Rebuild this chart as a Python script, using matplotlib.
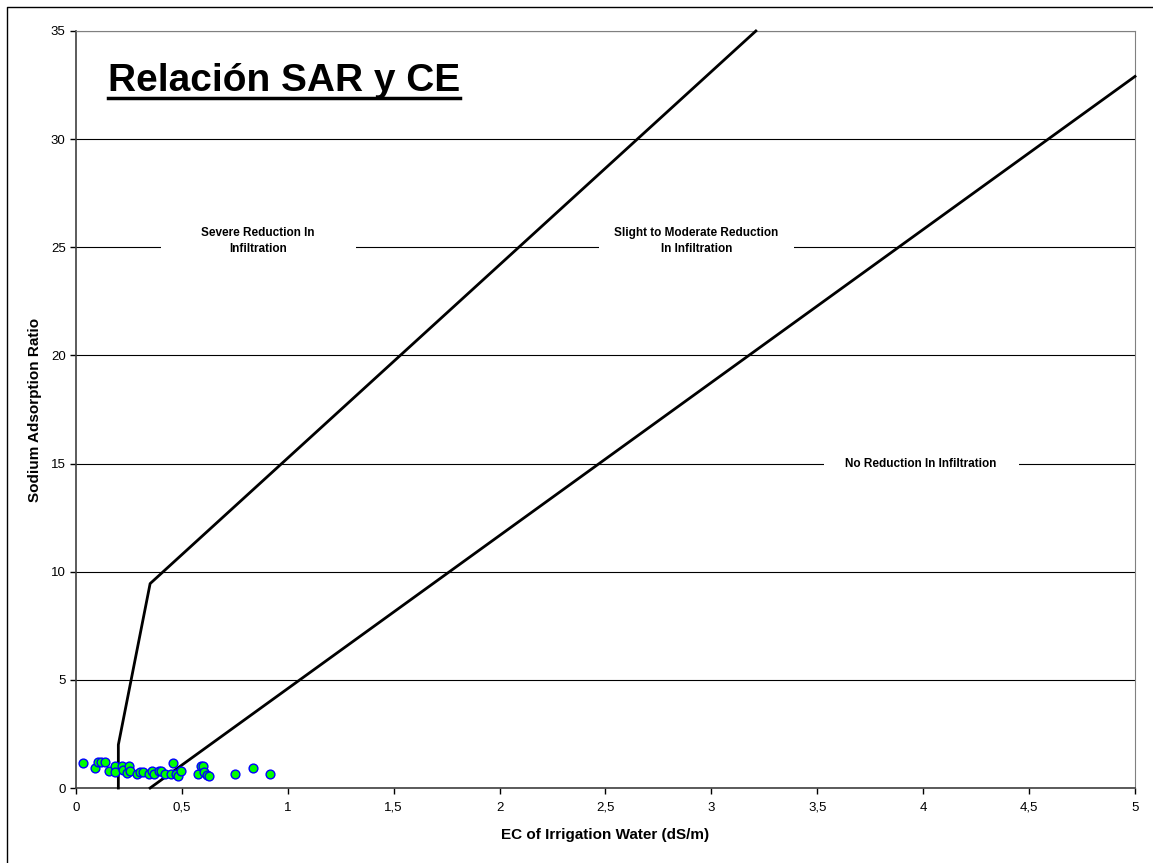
import matplotlib
matplotlib.use('Agg')
import matplotlib.pyplot as plt
from matplotlib.patches import Rectangle
from matplotlib.lines import Line2D
from matplotlib.ticker import FuncFormatter

plt.rcParams['font.family'] = ['Liberation Sans', 'DejaVu Sans']

# boundary lines between infiltration classes
severe_x = [0.2, 0.2, 0.35, 3.21]
severe_y = [0, 2.0, 9.45, 35]
none_x = [0.35, 5.0]
none_y = [0, 32.9]

# water samples (EC, SAR)
ec = [0.035, 0.088, 0.105, 0.117, 0.135, 0.157, 0.184, 0.184, 0.216, 0.22,
      0.24, 0.249, 0.255, 0.29, 0.30, 0.318, 0.346, 0.357, 0.37, 0.393,
      0.401, 0.42, 0.449, 0.46, 0.472, 0.483, 0.496, 0.578, 0.589, 0.598,
      0.604, 0.617, 0.626, 0.749, 0.834, 0.916]
sar = [1.16, 0.92, 1.2, 1.2, 1.2, 0.8, 1.03, 0.75, 1.03, 0.83,
       0.71, 1.03, 0.8, 0.66, 0.75, 0.75, 0.66, 0.8, 0.66, 0.8,
       0.8, 0.66, 0.66, 1.16, 0.66, 0.55, 0.8, 0.66, 1.03, 1.03,
       0.75, 0.6, 0.55, 0.66, 0.94, 0.66]

# region labels: text, x, y
labels = ['Severe Reduction In\nInfiltration',
          'Slight to Moderate Reduction\nIn Infiltration',
          'No Reduction In Infiltration']
label_x = [0.86, 2.93, 3.99]
label_y = [25.3, 25.3, 15.0]

fig = plt.figure(figsize=(11.53, 8.63), dpi=100)
ax = fig.add_axes([0.0659, 0.0869, 0.9185, 0.8772])

ax.set_xlim(0, 5)
ax.set_ylim(0, 35)
ax.set_xticks([i * 0.5 for i in range(11)])
ax.set_yticks(range(0, 36, 5))
fmt = FuncFormatter(lambda v, p: ('%g' % v).replace('.', ','))
ax.xaxis.set_major_formatter(fmt)
ax.tick_params(axis='both', labelsize=9.5, direction='out', length=4, width=1)
ax.tick_params(axis='x', pad=6)
ax.yaxis.grid(True, color='black', lw=0.8)
ax.set_axisbelow(True)

for s in ['top', 'right']:
    ax.spines[s].set_color('#808080')
for s in ['left', 'bottom']:
    ax.spines[s].set_color('#404040')
    ax.spines[s].set_linewidth(1.2)

# white boxes behind labels, covering gridlines
for t, x, y in zip(labels, label_x, label_y):
    ax.add_patch(Rectangle((x - 0.46, y - 1.1), 0.92, 2.0, fc='white',
                           ec='none', zorder=1.5))
    ax.text(x, y, t, ha='center', va='center', fontsize=8.5, fontweight='bold',
            linespacing=1.4, zorder=3)

ax.plot(severe_x, severe_y, color='black', lw=2, zorder=4, clip_on=False)
ax.plot(none_x, none_y, color='black', lw=2, zorder=4, clip_on=False)
ax.scatter(ec, sar, s=40, c='#00ff00', edgecolors='#0000ff', linewidths=1,
           zorder=5, clip_on=False)

ax.set_xlabel('EC of Irrigation Water (dS/m)', fontsize=11,
              fontweight='bold', labelpad=10)
ax.set_ylabel('Sodium Adsorption Ratio', fontsize=11, fontweight='bold',
              labelpad=6)

title = ax.text(0.03, 0.958, 'Relación SAR y CE', transform=ax.transAxes,
                fontsize=28, fontweight='bold', va='top', ha='left')

# underline the title
fig.canvas.draw()
bb = title.get_window_extent().transformed(fig.transFigure.inverted())
uy = bb.y0 + 0.001
fig.add_artist(Line2D([bb.x0, bb.x1], [uy, uy], color='black', lw=2.5,
                      transform=fig.transFigure))

# outer chart border (left and top)
fig.add_artist(Line2D([0.006, 0.006, 1.0], [0.0, 0.992, 0.992],
                      color='black', lw=1, transform=fig.transFigure))

fig.savefig('out.png', dpi=100)
